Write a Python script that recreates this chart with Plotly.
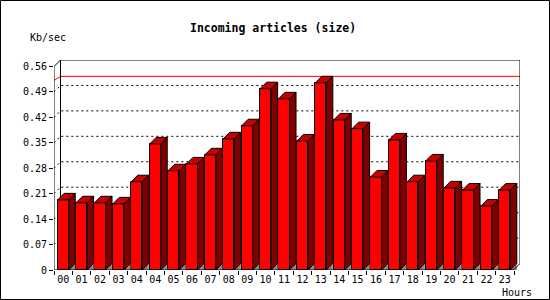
import plotly.graph_objects as go

# ---- data ----
hours = ["00", "01", "02", "03", "04", "04", "05", "06", "07", "08", "09", "10",
         "11", "12", "13", "14", "15", "16", "17", "18", "19", "20", "21", "22", "23"]
kb_per_sec = [0.193, 0.185, 0.185, 0.182, 0.243, 0.347, 0.273, 0.292, 0.317, 0.361,
              0.397, 0.499, 0.471, 0.355, 0.515, 0.413, 0.389, 0.256, 0.358, 0.243,
              0.300, 0.226, 0.220, 0.176, 0.220]
y_ticks = [0, 0.07, 0.14, 0.21, 0.28, 0.35, 0.42, 0.49, 0.56]
y_tick_labels = ["0", "0.07", "0.14", "0.21", "0.28", "0.35", "0.42", "0.49", "0.56"]

# ---- geometry ----
FIG_W, FIG_H = 550, 300
ML, MR, MT, MB = 54, 30, 60, 30
PW, PH = FIG_W - ML - MR, FIG_H - MT - MB
X_PX = 18.4                      # px per category
DEPTH_X_PX, DEPTH_Y_PX = 6.5, 6.5
Y_MAX_TICK = y_ticks[-1]
Y_PX = (PH - DEPTH_Y_PX) / Y_MAX_TICK
DX = DEPTH_X_PX / X_PX
DY = DEPTH_Y_PX / Y_PX
X0 = -0.5
X1 = X0 + PW / X_PX
Y1 = Y_MAX_TICK + DY
HALF = 0.3

n = len(hours)
xs = list(range(n))

def polys(list_of_pts):
    px, py = [], []
    for pts in list_of_pts:
        for (a, b) in pts:
            px.append(a)
            py.append(b)
        px.append(pts[0][0]); py.append(pts[0][1])
        px.append(None); py.append(None)
    return px, py

side_pts, top_pts, floor_pts = [], [], []
for i, v in zip(xs, kb_per_sec):
    r = i + HALF
    l = i - HALF
    side_pts.append([(r, 0), (r + DX, DY), (r + DX, v + DY), (r, v)])
    top_pts.append([(l, v), (l + DX, v + DY), (r + DX, v + DY), (r, v)])
    floor_pts.append([(r, 0), (r + DX, DY), (r + DX, 0)])

fig = go.Figure()

fx, fy = polys(floor_pts)
fig.add_trace(go.Scatter(x=fx, y=fy, mode="lines", fill="toself", fillcolor="#8c8c8c",
                         line=dict(color="#8c8c8c", width=0), hoverinfo="skip", showlegend=False))

fig.add_trace(go.Bar(x=xs, y=kb_per_sec, width=2 * HALF,
                     marker=dict(color="#ff0000", line=dict(color="black", width=1)),
                     hoverinfo="skip", showlegend=False))

sx, sy = polys(side_pts)
fig.add_trace(go.Scatter(x=sx, y=sy, mode="lines", fill="toself", fillcolor="#800000",
                         line=dict(color="black", width=1), hoverinfo="skip", showlegend=False))
tx, ty = polys(top_pts)
fig.add_trace(go.Scatter(x=tx, y=ty, mode="lines", fill="toself", fillcolor="#c80000",
                         line=dict(color="black", width=1), hoverinfo="skip", showlegend=False))

shapes = []
# dotted grid lines on the back wall
for t in y_ticks[1:-1]:
    shapes.append(dict(type="path", xref="x", yref="y", layer="below",
                       path=f"M{X0},{t} L{X0 + DX},{t + DY} L{X1},{t + DY}",
                       line=dict(color="black", width=1, dash="2px,3px")))
# max line
vmax = max(kb_per_sec)
shapes.append(dict(type="path", xref="x", yref="y", layer="below",
                   path=f"M{X0 - 0.2},{vmax} L{X0 + DX},{vmax + DY} L{X1},{vmax + DY}",
                   line=dict(color="#ff0000", width=1)))
# back wall frame
shapes.append(dict(type="path", xref="x", yref="y", layer="below",
                   path=f"M{X0 + DX},{DY} L{X0 + DX},{Y1} L{X1},{Y1} L{X1},{DY}",
                   line=dict(color="black", width=1)))
# front axes
shapes.append(dict(type="path", xref="x", yref="y", layer="above",
                   path=f"M{X0 + DX},{Y1} L{X0},{Y_MAX_TICK} L{X0},0 L{X1 - DX},0 L{X1},{DY}",
                   line=dict(color="black", width=1)))
# outer border
shapes.append(dict(type="rect", xref="paper", yref="paper", layer="above",
                   x0=(0.5 - ML) / PW, x1=(FIG_W - 0.5 - ML) / PW,
                   y0=(PH + MT - (FIG_H - 0.5)) / PH, y1=(PH + MT - 0.5) / PH,
                   line=dict(color="black", width=1)))

def px_to_paper_x(p):
    return (p - ML) / PW

def px_to_paper_y(p):
    return (MT + PH - p) / PH

mono = "DejaVu Sans Mono"
annotations = [
    dict(text="<b>Incoming articles (size)</b>", xref="paper", yref="paper",
         x=px_to_paper_x(273), y=px_to_paper_y(27.5), xanchor="center", yanchor="middle",
         showarrow=False, font=dict(family=mono, size=11.5, color="black")),
    dict(text="Kb/sec", xref="paper", yref="paper",
         x=px_to_paper_x(28), y=px_to_paper_y(37.5), xanchor="left", yanchor="middle",
         showarrow=False, font=dict(family=mono, size=10, color="black")),
    dict(text="Hours", xref="paper", yref="paper",
         x=px_to_paper_x(534), y=px_to_paper_y(292.5), xanchor="right", yanchor="middle",
         showarrow=False, font=dict(family=mono, size=10, color="black")),
]

fig.update_layout(
    width=FIG_W, height=FIG_H, autosize=False,
    margin=dict(l=ML, r=MR, t=MT, b=MB, pad=0),
    paper_bgcolor="white", plot_bgcolor="white",
    shapes=shapes, annotations=annotations, bargap=0,
    font=dict(family=mono, size=10, color="black"),
    xaxis=dict(range=[X0, X1], tickmode="array", tickvals=xs, ticktext=hours,
               ticks="", showgrid=False, zeroline=False, showline=False,
               ticklabelstandoff=2,
               tickfont=dict(family=mono, size=10, color="black"),
               minor=dict(tickmode="array", tickvals=[i - 0.5 for i in range(n + 1)],
                          ticks="outside", ticklen=4, tickcolor="black", tickwidth=1,
                          showgrid=False),
               fixedrange=True),
    yaxis=dict(range=[0, Y1], tickmode="array", tickvals=y_ticks, ticktext=y_tick_labels,
               ticks="outside", ticklen=4, tickcolor="black", tickwidth=1,
               showgrid=False, zeroline=False, showline=False,
               tickfont=dict(family=mono, size=10, color="black"),
               fixedrange=True),
)

fig.write_html("out.html")
